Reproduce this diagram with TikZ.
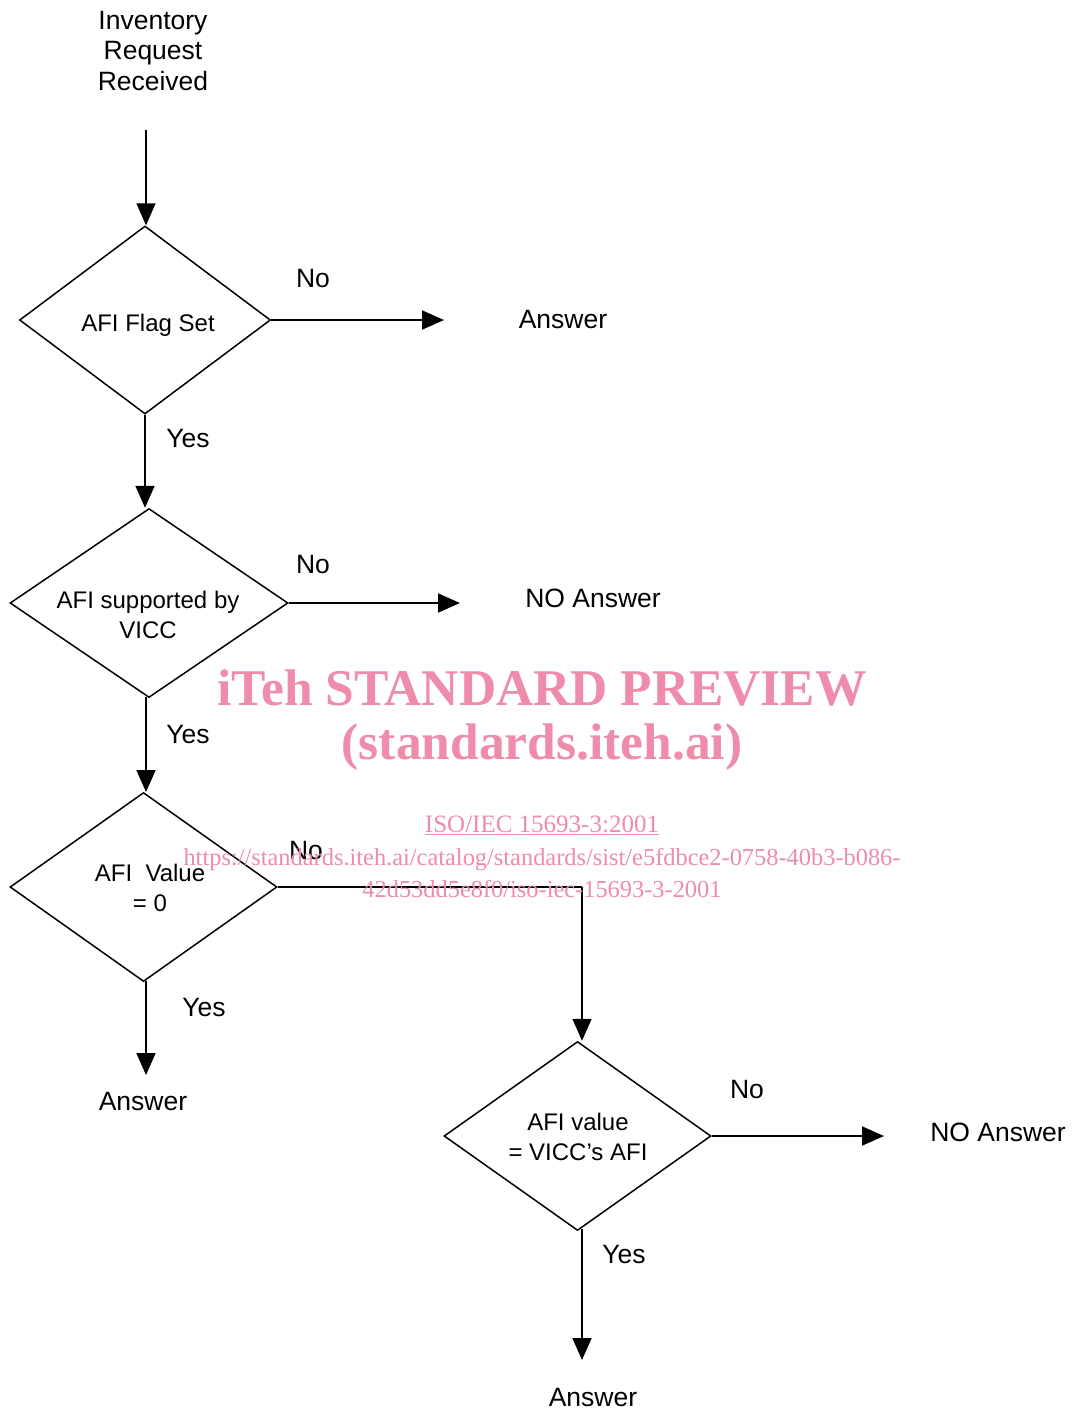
\documentclass[tikz,border=0pt]{standalone}
\usepackage{fontspec}
\setmainfont{Liberation Sans}
\newfontfamily\wmfont{Liberation Serif}
\usetikzlibrary{shapes.geometric,arrows.meta}
\definecolor{wmpink}{RGB}{238,140,170}
\tikzset{
  dia/.style={draw, shape=diamond, line width=1.5pt, inner sep=0pt, aspect=1},
  lbl/.style={font=\fontsize{26.5}{30.5}\selectfont, inner sep=0pt, align=center},
  dtxt/.style={font=\fontsize{24}{30}\selectfont, inner sep=0pt, align=center},
  conn/.style={line width=1.8pt, -{Triangle[length=22pt,width=19pt]}},
  plain/.style={line width=1.8pt},
  wm/.style={text=wmpink, inner sep=0pt, align=center}
}
\begin{document}
\begin{tikzpicture}[x=1pt,y=-1pt]
\useasboundingbox (0,0) rectangle (1072,1409);
\fill[white] (0,0) rectangle (1072,1409);

% start
\node[lbl] (start) at (153,51) {Inventory\\Request\\Received};
\coordinate (s0) at (146,130);

% diamonds
\node[dia, minimum width=251pt, minimum height=188pt] (d1) at (145,320) {};
\node[dtxt] (t1) at (148,325) {AFI Flag Set};
\node[dia, minimum width=278pt, minimum height=189pt] (d2) at (149,603) {};
\node[dtxt] (t2) at (148,615) {AFI supported by\\VICC};
\node[dia, minimum width=267pt, minimum height=189pt] (d3) at (143.5,887) {};
\node[dtxt] (t3) at (150,888) {AFI\ \ Value\\= 0};
\node[dia, minimum width=267pt, minimum height=189pt] (d4) at (577.5,1136) {};
\node[dtxt] (t4) at (578,1137) {AFI value\\= VICC’s AFI};

% outcome texts
\node[lbl] (a1) at (563,320) {Answer};
\node[lbl] (a2) at (593,598) {NO Answer};
\node[lbl] (a3) at (143,1101) {Answer};
\node[lbl] (a4) at (998,1132) {NO Answer};
\node[lbl] (a5) at (593,1397) {Answer};

% arrow end coordinates
\coordinate (e1) at (444,320);
\coordinate (e2) at (460,603);
\coordinate (e3) at (146,1075);
\coordinate (e4) at (884,1136);
\coordinate (e5) at (582,1360);
\coordinate (k3) at (582,887);

% connectors
\draw[conn] (s0) -- (s0 |- d1.north);
\draw[conn] (d1.east) -- (d1.east -| e1);
\draw[conn] (d1.south) -- (d1.south |- d2.north);
\draw[conn] (d2.east) -- (d2.east -| e2);
\draw[conn] (146,697) -- (146,792);
\draw[conn] (146,981) -- (e3);
\draw[plain] (d3.east) -- (k3);
\draw[conn] (k3) -- (k3 |- d4.north);
\draw[conn] (d4.east) -- (d4.east -| e4);
\draw[conn] (582,1229) -- (e5);

% connector labels
\node[lbl] (n1) at (313,279) {No};
\node[lbl] (y1) at (188,439) {Yes};
\node[lbl] (n2) at (313,565) {No};
\node[lbl] (y2) at (188,735) {Yes};
\node[lbl] (n3) at (306,851) {No};
\node[lbl] (y3) at (204,1007) {Yes};
\node[lbl] (n4) at (747,1089) {No};
\node[lbl] (y4) at (624,1254) {Yes};

% watermark
\node[wm, font=\wmfont\bfseries\fontsize{51.5}{60}\selectfont] (w1) at (542,688) {iTeh STANDARD PREVIEW};
\node[wm, font=\wmfont\bfseries\fontsize{51.5}{60}\selectfont] (w2) at (542,747) {(standards.iteh.ai)};
\node[wm, font=\wmfont\fontsize{25}{32}\selectfont] (w3) at (542,825) {\underline{ISO/IEC 15693-3:2001}};
\node[wm, font=\wmfont\fontsize{24.4}{32}\selectfont] (w4) at (542,873) {https://standards.iteh.ai/catalog/standards/sist/e5fdbce2-0758-40b3-b086-\\42d53dd5e8f0/iso-iec-15693-3-2001};
\end{tikzpicture}
\end{document}
